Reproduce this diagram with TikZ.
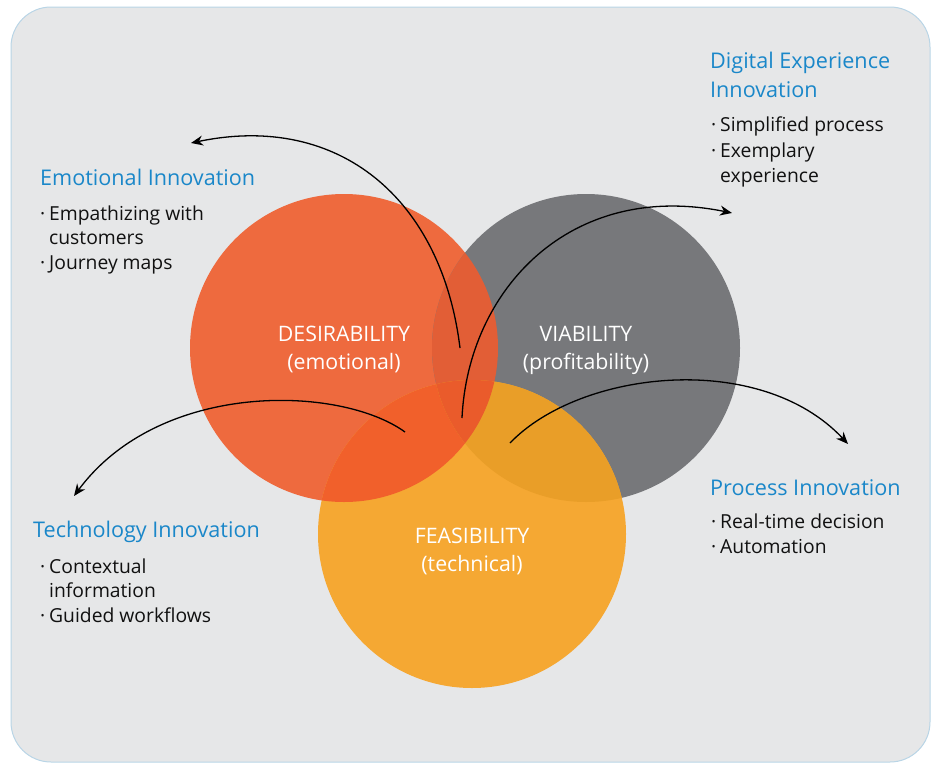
\documentclass[tikz,border=0pt]{standalone}
\usepackage{fontspec}
\setmainfont{Open Sans}
\usetikzlibrary{arrows.meta}
\definecolor{bgcol}{HTML}{E6E7E8}
\definecolor{bordercol}{HTML}{B9D5E6}
\definecolor{dcol}{HTML}{EE6A3E}
\definecolor{vcol}{HTML}{77787B}
\definecolor{fcol}{HTML}{F5A833}
\definecolor{dvcol}{HTML}{E25E36}
\definecolor{dfcol}{HTML}{F1602B}
\definecolor{vfcol}{HTML}{E99E28}
\definecolor{dvfcol}{HTML}{EA5B2B}
\definecolor{titlecol}{HTML}{1A87C9}
\definecolor{txtcol}{HTML}{111111}
\tikzset{
  title/.style={anchor=base west, inner sep=0pt, text=titlecol, font=\fontsize{21.6}{26}\selectfont},
  body/.style={anchor=base west, inner sep=0pt, text=txtcol, font=\fontsize{19.3}{24}\selectfont},
  clabel/.style={anchor=base, inner sep=0pt, text=white, font=\fontsize{21.3}{26}\selectfont},
  conn/.style={line width=1.3pt, -{Stealth[length=12pt,width=10pt]}}
}
\newcommand\bdot{\makebox[9pt][l]{·}}
\begin{document}
\begin{tikzpicture}[x=1pt,y=-1pt]
\useasboundingbox (0,0) rectangle (940,763);
\draw[fill=bgcol, draw=bordercol, line width=1pt, rounded corners=40pt] (11,7) rectangle (930,762);
% circle centres
\coordinate (Dc) at (344,348);
\coordinate (Vc) at (586,348);
\coordinate (Fc) at (472,534);
\def\R{154}
\fill[dcol] (Dc) circle (\R);
\fill[vcol] (Vc) circle (\R);
\fill[fcol] (Fc) circle (\R);
\begin{scope}
  \clip (Dc) circle (\R);
  \fill[dvcol] (Vc) circle (\R);
  \fill[dfcol] (Fc) circle (\R);
\end{scope}
\begin{scope}
  \clip (Vc) circle (\R);
  \fill[vfcol] (Fc) circle (\R);
\end{scope}
\begin{scope}
  \clip (Dc) circle (\R);
  \clip (Vc) circle (\R);
  \fill[dvfcol] (Fc) circle (\R);
\end{scope}
% circle labels
\node[clabel] (d1) at (344,341) {DESIRABILITY};
\node[clabel] (d2) at (344,369) {(emotional)};
\node[clabel] (v1) at (586,341) {VIABILITY};
\node[clabel] (v2) at (586,369) {(profitability)};
\node[clabel] (f1) at (472,543) {FEASIBILITY};
\node[clabel] (f2) at (472,571) {(technical)};
% text blocks
\node[title] (et) at (40,185) {Emotional Innovation};
\node[body] (e1) at (40,220) {\bdot Empathizing with};
\node[body] (e2) at (40,244) {\hphantom{\bdot}customers};
\node[body] (e3) at (40,269) {\bdot Journey maps};

\node[title] (dt1) at (710,68) {Digital Experience};
\node[title] (dt2) at (710,97) {Innovation};
\node[body] (g1) at (711,131) {\bdot Simplified process};
\node[body] (g2) at (711,157) {\bdot Exemplary};
\node[body] (g3) at (711,182) {\hphantom{\bdot}experience};

\node[title] (tt) at (33,537) {Technology Innovation};
\node[body] (t1) at (40,573) {\bdot Contextual};
\node[body] (t2) at (40,597) {\hphantom{\bdot}information};
\node[body] (t3) at (40,622) {\bdot Guided workflows};

\node[title] (pt) at (710,495) {Process Innovation};
\node[body] (p1) at (711,528) {\bdot Real-time decision};
\node[body] (p2) at (711,553) {\bdot Automation};
% connectors
\coordinate (a1s) at (460,348);
\coordinate (a1e) at (191,143);
\coordinate (a2s) at (462,418);
\coordinate (a2e) at (732,213);
\coordinate (a3s) at (405,432);
\coordinate (a3e) at (74,496);
\coordinate (a4s) at (510,443);
\coordinate (a4e) at (848,444);
\draw[conn] (a1s) .. controls (442,200) and (340,112) .. (a1e);
\draw[conn] (a2s) .. controls (468,290) and (570,180) .. (a2e);
\draw[conn] (a3s) .. controls (340,385) and (160,380) .. (a3e);
\draw[conn] (a4s) .. controls (580,370) and (760,350) .. (a4e);
\end{tikzpicture}
\end{document}
